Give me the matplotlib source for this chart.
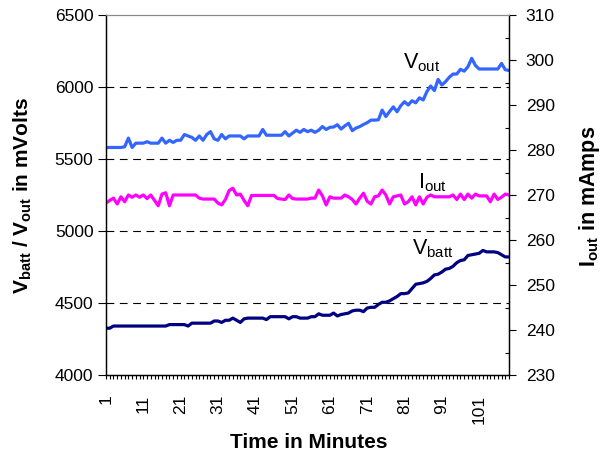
import matplotlib
matplotlib.use("Agg")
import matplotlib.pyplot as plt
from matplotlib.ticker import MultipleLocator

plt.rcParams['font.family'] = 'Liberation Sans'
plt.rcParams['mathtext.fontset'] = 'custom'
plt.rcParams['mathtext.rm'] = 'Liberation Sans'
plt.rcParams['mathtext.it'] = 'Liberation Sans'
plt.rcParams['mathtext.bf'] = 'Liberation Sans:bold'

# readings, one per minute
v_out = [5580, 5580, 5580, 5580, 5580, 5585, 5645, 5580, 5610, 5610,
         5610, 5620, 5610, 5610, 5610, 5645, 5610, 5630, 5615, 5630,
         5630, 5670, 5660, 5650, 5630, 5660, 5630, 5670, 5690, 5640,
         5630, 5670, 5640, 5660, 5660, 5660, 5660, 5640, 5660, 5660,
         5660, 5660, 5705, 5665, 5665, 5665, 5665, 5665, 5690, 5660,
         5680, 5700, 5685, 5705, 5690, 5700, 5685, 5700, 5725, 5705,
         5720, 5722, 5738, 5708, 5730, 5748, 5697, 5715, 5725, 5740,
         5752, 5770, 5770, 5772, 5840, 5795, 5830, 5862, 5828, 5870,
         5898, 5875, 5905, 5890, 5925, 5910, 5968, 6007, 5975, 6053,
         6014, 6037, 6068, 6090, 6090, 6123, 6110, 6141, 6199, 6150,
         6125, 6125, 6125, 6125, 6125, 6125, 6164, 6120, 6115]

v_batt = [4325, 4325, 4340, 4340, 4340, 4340, 4340, 4340, 4340, 4340,
          4340, 4340, 4340, 4340, 4340, 4340, 4340, 4350, 4350, 4350,
          4350, 4350, 4340, 4360, 4360, 4360, 4360, 4360, 4360, 4375,
          4375, 4365, 4380, 4380, 4395, 4380, 4365, 4390, 4395, 4395,
          4395, 4395, 4395, 4385, 4405, 4405, 4405, 4405, 4405, 4390,
          4405, 4405, 4395, 4395, 4395, 4405, 4405, 4425, 4415, 4415,
          4415, 4430, 4410, 4420, 4425, 4430, 4445, 4450, 4450, 4440,
          4465, 4470, 4470, 4490, 4505, 4505, 4515, 4530, 4545, 4565,
          4565, 4570, 4600, 4630, 4635, 4640, 4650, 4670, 4695, 4700,
          4715, 4735, 4740, 4755, 4780, 4795, 4800, 4830, 4835, 4840,
          4845, 4865, 4855, 4855, 4855, 4850, 4835, 4820, 4820]

i_out = [268.2, 268.8, 269.3, 268.0, 269.6, 268.5, 270.0, 269.5, 270.0, 269.5,
         270.0, 269.2, 270.0, 268.8, 267.6, 270.2, 270.5, 267.6, 270.0, 270.0,
         270.0, 270.0, 270.0, 270.0, 270.0, 269.3, 269.1, 269.1, 269.1, 269.1,
         268.2, 267.8, 269.0, 271.0, 271.5, 270.0, 270.2, 268.8, 267.6, 269.9,
         269.9, 269.9, 269.9, 269.9, 269.9, 269.9, 269.2, 269.1, 269.0, 270.0,
         269.2, 269.1, 269.1, 269.1, 269.1, 269.3, 269.3, 271.1, 269.8, 267.8,
         269.6, 269.3, 269.3, 269.3, 270.0, 269.6, 269.0, 268.0, 269.3, 270.4,
         268.6, 268.0, 269.6, 269.8, 271.1, 270.0, 268.0, 269.6, 269.8, 270.0,
         268.0, 268.5, 269.6, 267.8, 269.6, 268.0, 269.5, 270.0, 269.6, 269.6,
         269.6, 269.6, 269.6, 270.0, 269.0, 270.2, 269.0, 270.2, 269.3, 270.2,
         269.8, 269.8, 269.8, 268.5, 270.2, 269.0, 269.5, 270.2, 270.0]

minutes = list(range(1, len(v_out) + 1))
tick_minutes = list(range(1, 102, 10))

fig = plt.figure(figsize=(6.04, 4.54), dpi=100)
ax = fig.add_axes([106 / 604, 1 - 375 / 454, 403 / 604, 360 / 454])
ax2 = ax.twinx()

ax.plot(minutes, v_out, color='#3366FF', lw=2.3, solid_joinstyle='round')
ax.plot(minutes, v_batt, color='#000080', lw=2.3, solid_joinstyle='round')
ax2.plot(minutes, i_out, color='#FF00FF', lw=2.3, solid_joinstyle='round')

ax.set_xlim(1, len(v_out))
ax.set_ylim(4000, 6500)
ax2.set_ylim(230, 310)

ax.set_yticks(range(4000, 6501, 500))
for y in range(4500, 6001, 500):
    ax.axhline(y, color='black', lw=0.8, linestyle=(0, (7, 5)), zorder=0)

ax.set_xticks(tick_minutes)
ax.set_xticks(minutes, minor=True)
ax.set_xticklabels([str(m) for m in tick_minutes], rotation=90)
ax.tick_params(axis='x', which='both', direction='out', length=3, width=0.8)
ax.tick_params(axis='x', which='major', pad=11, labelsize=12.5)
ax.tick_params(axis='y', direction='out', length=6, width=0.8, pad=3, labelsize=12.5)

ax2.yaxis.set_major_locator(MultipleLocator(10))
ax2.yaxis.set_minor_locator(MultipleLocator(5))
ax2.tick_params(axis='y', which='major', direction='out', length=5, width=0.8, pad=7, labelsize=12.5)
ax2.tick_params(axis='y', which='minor', direction='in', length=3, width=0.8)

for a in (ax, ax2):
    a.spines['top'].set_color('#888888')
    for s in ('left', 'right', 'bottom'):
        a.spines[s].set_linewidth(0.9)

ax.text(85.5, 6170, r'$\mathrm{V_{out}}$', fontsize=15.5, ha='center', va='center')
ax.text(88.5, 5335, r'$\mathrm{I_{out}}$', fontsize=15.5, ha='center', va='center')
ax.text(88.5, 4880, r'$\mathrm{V_{batt}}$', fontsize=15.5, ha='center', va='center')

fig.text(23 / 604, 1 - 195 / 454, r'$\mathbf{V_{batt}}$ / $\mathbf{V_{out}}$ in mVolts',
         rotation=90, ha='center', va='center', fontsize=15, fontweight='bold')
fig.text(589 / 604, 1 - 196 / 454, r'$\mathbf{I_{out}}$ in mAmps',
         rotation=90, ha='center', va='center', fontsize=15.5, fontweight='bold')
fig.text(309 / 604, 1 - 443 / 454, 'Time in Minutes',
         ha='center', va='center', fontsize=15, fontweight='bold')

fig.savefig('out.png', dpi=100)
